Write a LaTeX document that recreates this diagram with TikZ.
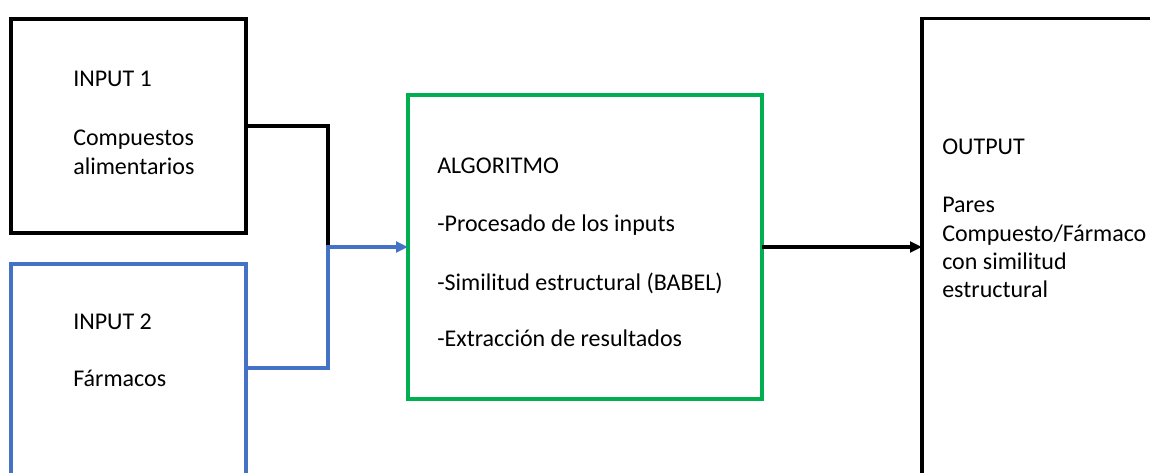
\documentclass[tikz,border=0pt]{standalone}
\usepackage{fontspec}
\setmainfont{Carlito}
\usetikzlibrary{arrows.meta}
\definecolor{offblue}{HTML}{4472C4}
\definecolor{offgreen}{HTML}{00B050}
\tikzset{
  box/.style={draw, rectangle, anchor=north west, inner sep=0pt, outer sep=0pt},
  txt/.style={anchor=base west, inner sep=0pt, font=\fontsize{18pt}{21.75pt}\selectfont},
  conn/.style={line width=2.5pt},
  tip/.style={-{Triangle[length=9pt,width=8pt]}}
}
\begin{document}
\begin{tikzpicture}[x=0.75pt,y=-0.75pt]
\clip (0,0) rectangle (1150,473);
\fill[white] (0,0) rectangle (1150,473);
% boxes
\node[box, line width=2.5pt, minimum width=176.25pt, minimum height=160.5pt] (in1) at (11,19) {};
\node[box, draw=offblue, line width=2.3pt, minimum width=176.25pt, minimum height=225pt] (in2) at (11,264) {};
\node[box, draw=offgreen, line width=2.3pt, minimum width=265.5pt, minimum height=228pt] (alg) at (408,95) {};
\node[box, line width=2.5pt, minimum width=300pt, minimum height=420pt] (out) at (922,18.5) {};
% texts
\node[txt] (t1a) at (73,87) {INPUT 1};
\node[txt] (t1b) at (73,146) {Compuestos};
\node[txt] (t1c) at (73,175) {alimentarios};
\node[txt] (t2a) at (73,330) {INPUT 2};
\node[txt] (t2b) at (73,387) {Fármacos};
\node[txt] (ta) at (437,174) {ALGORITMO};
\node[txt] (tb) at (437,232) {-Procesado de los inputs};
\node[txt] (tc) at (437,291) {-Similitud estructural (BABEL)};
\node[txt] (td) at (437,347) {-Extracción de resultados};
\node[txt] (o1) at (942,155) {OUTPUT};
\node[txt] (o2) at (942,213) {Pares};
\node[txt] (o3) at (942,242) {Compuesto/Fármaco};
\node[txt] (o4) at (942,270) {con similitud};
\node[txt] (o5) at (942,298) {estructural};
% connectors
\coordinate (jn) at (328,0);
\coordinate (y2) at (0,368);
\draw[conn] (in1.east) -| (jn |- alg.west);
\draw[conn, draw=offblue, tip] (in2.north east |- y2) -| (jn |- alg.west) -- (alg.west);
\draw[conn, tip] (alg.east) -- (out.west |- alg.east);
\end{tikzpicture}
\end{document}
